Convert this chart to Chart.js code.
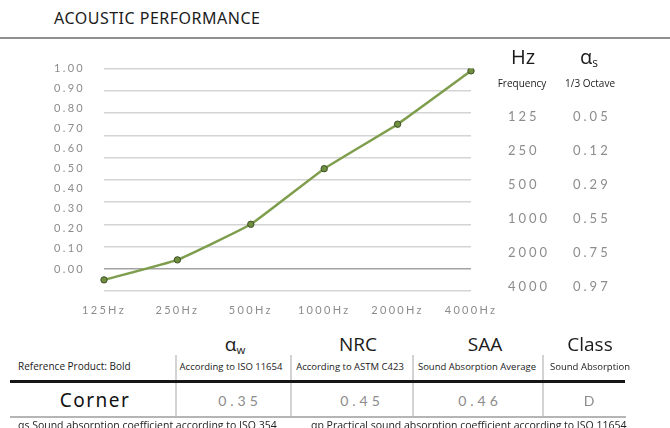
<!DOCTYPE html>
<html>
<head>
<meta charset="utf-8">
<script src="https://cdn.jsdelivr.net/npm/chart.js@4.4.1/dist/chart.umd.min.js"></script>
<style>
  html, body { margin: 0; padding: 0; background: #fff; }
  body { width: 670px; height: 428px; position: relative; overflow: hidden; font-family: "Open Sans", sans-serif; color: #1a1a1a; }
  .abs { position: absolute; white-space: nowrap; }
  .c { transform: translate(-50%, -50%); }
  .vc { transform: translateY(-50%); }
  #title { left: 54px; top: 8px; font-family: "Noto Sans", sans-serif; font-size: 16px; line-height: 20px; letter-spacing: 0.5px; color: #1c1c1c; }
  #rule { left: 0; top: 37px; width: 670px; height: 2px; background: #8f8f8f; }
  #chartBox { position: absolute; left: 0; top: 43px; line-height: 0; }
  .bigHead { font-size: 19px; color: #1a1a1a; }
  .smallHead { font-size: 9.5px; color: #1a1a1a; }
  .num { font-family: "Lato", sans-serif; color: #8c8c8c; }
  .line { position: absolute; }
  sub { font-size: 60%; vertical-align: -0.25em; }
</style>
</head>
<body>
<div id="title" class="abs">ACOUSTIC PERFORMANCE</div>
<div id="rule" class="abs"></div>
<div id="chartBox"><canvas id="curve" width="520" height="278"></canvas></div>
<div id="sideTable"></div>
<div id="ratingTable"></div>

<script>
// curve (1/3 octave sound absorption)
const freqLabels = ['125Hz', '250Hz', '500Hz', '1000Hz', '2000Hz', '4000Hz'];
const curveValues = [0.05, 0.14, 0.30, 0.55, 0.75, 0.99];
const yTickValues = [0.0, 0.1, 0.2, 0.3, 0.4, 0.5, 0.6, 0.7, 0.8, 0.9, 1.0];

// side table
const octaveFreqs = ['125', '250', '500', '1000', '2000', '4000'];
const octaveValues = ['0.05', '0.12', '0.29', '0.55', '0.75', '0.97'];

// rating table
const productLabel = 'Reference Product: Bold';
const productName = 'Corner';
const ratingHeads = ['α<sub>w</sub>', 'NRC', 'SAA', 'Class'];
const ratingSubs = ['According to ISO 11654', 'According to ASTM C423', 'Sound Absorption Average', 'Sound Absorption'];
const ratingValues = ['0.35', '0.45', '0.46', 'D'];
const footNotes = ['αs Sound absorption coefficient according to ISO 354', 'αp Practical sound absorption coefficient according to ISO 11654'];

function addText(parent, html, cls, left, top, style) {
  const d = document.createElement('div');
  d.className = 'abs ' + cls;
  d.style.left = left + 'px';
  d.style.top = top + 'px';
  if (style) d.style.cssText += style;
  d.innerHTML = html;
  parent.appendChild(d);
  return d;
}

function addLine(parent, left, top, width, height, color) {
  const d = document.createElement('div');
  d.className = 'line';
  d.style.cssText = `left:${left}px;top:${top}px;width:${width}px;height:${height}px;background:${color};`;
  parent.appendChild(d);
}

// Tabela lateral (Hz / alpha s)
const side = document.getElementById('sideTable');
addText(side, 'Hz', 'c bigHead', 523, 56, 'font-size:20px;');
addText(side, 'α<sub>s</sub>', 'c bigHead', 589, 57, 'font-size:20px;');
addText(side, 'Frequency', 'c smallHead', 522, 83, 'font-size:10px;');
addText(side, '1/3 Octave', 'c smallHead', 590, 83, 'font-size:10px;');
octaveFreqs.forEach((f, i) => {
  const y = 116 + i * 34;
  addText(side, f, 'vc num', 508, y, 'font-size:13px;letter-spacing:3px;');
  addText(side, octaveValues[i], 'vc num', 573, y, 'font-size:13px;letter-spacing:3px;');
});

// Tabela de classificacao
const rating = document.getElementById('ratingTable');
const headX = [235, 358, 485, 590];
const subX = [231, 350, 477, 590];
const valX = [238, 360, 478, 589];
const seps = [175, 290, 412, 542];
addText(rating, productLabel, 'vc smallHead', 18, 366, 'font-size:10px;');
ratingHeads.forEach((h, i) => {
  addText(rating, h, 'c bigHead', headX[i], 344);
  addText(rating, ratingSubs[i], 'c smallHead', subX[i], 366);
  addText(rating, ratingValues[i], 'c num', valX[i] + 2, 400, 'font-size:14px;letter-spacing:4px;');
});
seps.forEach(x => addLine(rating, x, 355, 2, 62, '#d3d3d3'));
addLine(rating, 10, 380, 615, 3, '#161616');
addLine(rating, 10, 416, 616, 2, '#b5b5b5');
addText(rating, productName, 'c', 95, 400, 'font-family:"Noto Sans",sans-serif;font-size:19px;letter-spacing:1.5px;color:#111;');
addText(rating, footNotes[0], '', 18, 418, 'font-size:10.5px;color:#222;');
addText(rating, footNotes[1], '', 311, 418, 'font-size:10.5px;color:#222;');

// Espacamento das letras nos rotulos dos eixos
const letterSpacer = {
  id: 'letterSpacer',
  beforeLayout(chart) { chart.ctx.letterSpacing = '2.3px'; },
  beforeDraw(chart) { chart.ctx.letterSpacing = '2.3px'; }
};

const tickFont = { family: 'Lato', size: 11 };
const tickColor = '#8c8c8c';

const ctx = document.getElementById('curve').getContext('2d');
const curveChart = new Chart(ctx, {
  type: 'line',
  data: {
    labels: freqLabels,
    datasets: [{
      data: curveValues,
      yAxisID: 'y',
      borderColor: '#7f9e4d',
      borderWidth: 2.5,
      tension: 0.1,
      pointRadius: 3.2,
      pointBackgroundColor: '#6f8f3e',
      pointBorderColor: '#3e4e2a',
      pointBorderWidth: 1
    }]
  },
  options: {
    responsive: false,
    animation: false,
    layout: { padding: { top: 13, right: 49, bottom: 0, left: 0 } },
    plugins: { legend: { display: false }, tooltip: { enabled: false } },
    scales: {
      x: {
        offset: false,
        grid: { display: false, drawTicks: false },
        border: { display: false },
        ticks: { color: tickColor, font: tickFont, padding: 13, maxRotation: 0, autoSkip: false },
        afterFit(s) { s.height = 30; }
      },
      y: {
        position: 'left',
        min: 0,
        max: 1,
        ticks: { display: false, stepSize: 0.1 },
        grid: {
          drawTicks: false,
          lineWidth: 1.5,
          color: c => (c.tick && Math.abs(c.tick.value - 0.1) < 1e-6) ? '#a3a3a3' : '#d4d4d4'
        },
        border: { display: false },
        afterFit(s) { s.width = 0; }
      },
      yLabels: {
        position: 'left',
        min: -0.11,
        max: 1.0,
        grid: { display: false, drawTicks: false },
        border: { display: false },
        afterBuildTicks(s) { s.ticks = yTickValues.map(v => ({ value: v })); },
        ticks: { color: tickColor, font: tickFont, padding: 19, callback: v => v.toFixed(2) },
        afterFit(s) { s.width = 104; }
      }
    }
  },
  plugins: [letterSpacer]
});
</script>
</body>
</html>
